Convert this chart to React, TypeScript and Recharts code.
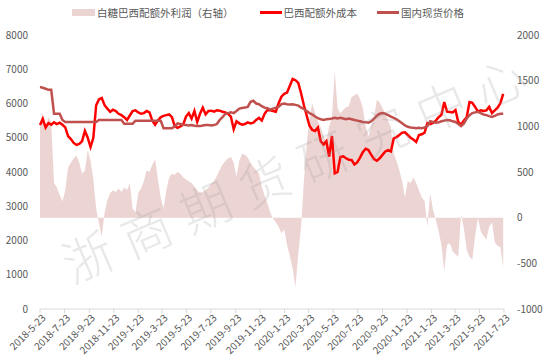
import React from 'react';
import { ComposedChart, Area, Line, XAxis, YAxis, Legend } from 'recharts';

// x-axis tick labels (every two months)
const tickLabels = [
  '2018-5-23', '2018-7-23', '2018-9-23', '2018-11-23', '2019-1-23', '2019-3-23', '2019-5-23',
  '2019-7-23', '2019-9-23', '2019-11-23', '2020-1-23', '2020-3-23', '2020-5-23', '2020-7-23',
  '2020-9-23', '2020-11-23', '2021-1-23', '2021-3-23', '2021-5-23', '2021-7-23',
];

// weekly readings, starting 2018-5-23
// 白糖巴西配额外利润（右轴）
const profit = [
  1050, 1150, 950, 1100, 1050, 380, 330, 250, 180, 300,
  550, 600, 650, 680, 600, 480, 520, 740, 620, 420,
  100, -60, -210, 50, 190, 270, 300, 280, 320, 280,
  330, 300, 380, 100, 60, 270, 320, 400, 520, 500,
  580, 640, 420, 220, 100, 300, 440, 480, 470, 500,
  480, 440, 420, 400, 380, 340, 300, 270, 280, 300,
  330, 370, 400, 460, 520, 580, 620, 650, 665, 600,
  450, 620, 700, 690, 660, 600, 555, 520, 480, 340,
  240, 160, 60, -10, -50, -100, -170, -130, -300, -420,
  -560, -760, -400, -100, 400, 800, 1100, 1250, 1150, 1050,
  990, 900, 820, 1000, 1100, 1600, 1200, 1140, 1180, 1210,
  1220, 1320, 1340, 1360, 1300, 1200, 1000, 885, 1000, 1100,
  1290, 1260, 1200, 1140, 1060, 990, 700, 620, 520, 400,
  220, 400, 380, 440, 380, 300, 220, 180, -100, 270,
  85, -20, -150, -300, -580, -300, -280, -370, -400, -430,
  40, -120, -350, -430, -460, -200, 0, -150, -200, -240,
  -100, -50, -270, -310, -320, -540,
];

// 巴西配额外成本
const cost = [
  5370, 5550, 5300, 5430, 5380, 5450, 5400, 5440, 5380, 5300,
  5050, 4960, 4850, 4790, 4820, 4900, 5200, 5000, 4730, 5000,
  5950, 6120, 6160, 5950, 5850, 5760, 5820, 5780, 5700, 5660,
  5600, 5520, 5650, 5780, 5800, 5740, 5700, 5720, 5780, 5740,
  5500, 5380, 5500, 5600, 5640, 5660, 5680, 5600, 5340, 5290,
  5330, 5380, 5620, 5720, 5560, 5780, 5460, 5700, 5880, 5680,
  5780, 5790, 5760, 5800, 5790, 5760, 5740, 5700, 5620, 5250,
  5480, 5420, 5380, 5400, 5450, 5420, 5440, 5520, 5580, 5500,
  5700, 5810, 5800, 5780, 5760, 6010, 6200, 6280, 6320, 6520,
  6720, 6680, 6600, 6300, 5950, 5650, 5350, 5230, 5200, 5300,
  4900, 4800, 4900, 4450, 5050, 3960, 4000, 4440, 4460, 4400,
  4360, 4350, 4220, 4280, 4420, 4580, 4680, 4640, 4500, 4380,
  4330, 4400, 4500, 4600, 4640, 4600, 4980, 5020, 5080, 5150,
  5160, 5080, 5000, 4950, 4880, 5080, 5100, 5150, 5430, 5400,
  5430, 5500, 5600, 5670, 6040, 5760, 5750, 5740, 5810, 5460,
  5380, 5500, 5600, 6040, 6020, 5900, 5760, 5800, 5780, 5800,
  5900, 5720, 5800, 5880, 6010, 6280,
];

// 国内现货价格
const spot = [
  6480, 6460, 6430, 6400, 6400, 5700, 5700, 5700, 5520, 5460,
  5460, 5460, 5460, 5460, 5460, 5460, 5460, 5460, 5460, 5460,
  5460, 5520, 5520, 5520, 5520, 5520, 5520, 5520, 5520, 5520,
  5410, 5410, 5410, 5410, 5500, 5500, 5500, 5500, 5500, 5500,
  5500, 5500, 5500, 5500, 5280, 5280, 5280, 5280, 5330, 5420,
  5400, 5380, 5370, 5360, 5370, 5350, 5340, 5340, 5360, 5370,
  5370, 5360, 5370, 5400, 5520, 5600, 5700, 5720, 5740, 5720,
  5780, 5850, 5870, 5880, 5900, 6050, 6080, 6000, 5980, 5920,
  5880, 5860, 5820, 5850, 5880, 5900, 5980, 6000, 5980, 5970,
  5980, 5960, 5940, 5880, 5840, 5780, 5720, 5680, 5620, 5570,
  5540, 5520, 5540, 5550, 5560, 5580, 5560, 5580, 5560, 5540,
  5560, 5540, 5520, 5500, 5480, 5460, 5450, 5440, 5480, 5560,
  5640, 5700, 5720, 5700, 5660, 5620, 5580, 5540, 5480, 5420,
  5360, 5320, 5300, 5290, 5280, 5290, 5280, 5300, 5340, 5480,
  5460, 5440, 5450, 5480, 5500, 5520, 5510, 5480, 5460, 5400,
  5340, 5420, 5560, 5660, 5720, 5740, 5760, 5720, 5680, 5660,
  5630, 5610, 5640, 5680, 5700, 5700,
];

const leftTicks = [0, 1000, 2000, 3000, 4000, 5000, 6000, 7000, 8000];
const rightTicks = [-1000, -500, 0, 500, 1000, 1500, 2000];

const AREA_COLOR = '#ecd4d3';
const COST_COLOR = '#ff0000';
const SPOT_COLOR = '#c0504d';
const TEXT_COLOR = '#595959';
const FONT = "'Noto Sans CJK SC', 'Noto Sans', sans-serif";

const dayOf = (s: string) => {
  const [y, m, d] = s.split('-').map(Number);
  return Math.round((Date.UTC(y, m - 1, d) - Date.UTC(2018, 4, 23)) / 86400000);
};
const tickDays = tickLabels.map(dayOf);
const labelByDay = new Map(tickDays.map((d, i) => [d, tickLabels[i]]));

const data = spot.map((_, i) => ({
  day: i * 7,
  profit: profit[i],
  cost: cost[i],
  spot: spot[i],
}));

const XTick = ({ x, y, payload }: any) => (
  <g transform={`translate(${x + 4},${y})`}>
    <text
      transform="rotate(-45)"
      textAnchor="end"
      dy="0.35em"
      fontSize={10}
      fill={TEXT_COLOR}
      fontFamily={FONT}
    >
      {labelByDay.get(payload.value)}
    </text>
  </g>
);

const LegendContent = () => (
  <div style={{ display: 'flex', alignItems: 'center', fontSize: 10.5, color: TEXT_COLOR, fontFamily: FONT, whiteSpace: 'nowrap' }}>
    <span style={{ display: 'inline-block', width: 23, height: 7, background: AREA_COLOR, marginRight: 2 }} />
    <span style={{ marginRight: 26 }}>白糖巴西配额外利润（右轴）</span>
    <span style={{ display: 'inline-block', width: 22, height: 3, background: COST_COLOR, marginRight: 2 }} />
    <span style={{ marginRight: 20 }}>巴西配额外成本</span>
    <span style={{ display: 'inline-block', width: 22, height: 3, background: SPOT_COLOR, marginRight: 2 }} />
    <span>国内现货价格</span>
  </div>
);

export default function App() {
  return (
    <div style={{ position: 'absolute', left: 0, top: 0, width: 550, height: 364, background: '#fff', overflow: 'hidden' }}>
      <ComposedChart width={550} height={364} data={data} margin={{ top: 35, right: 0, bottom: 0, left: 0 }}>
        <XAxis
          dataKey="day"
          type="number"
          domain={[0, 1157]}
          ticks={tickDays}
          interval={0}
          height={55}
          stroke="#d9d9d9"
          tickSize={4}
          tickMargin={3}
          tick={<XTick />}
        />
        <YAxis
          yAxisId="left"
          orientation="left"
          width={40}
          domain={[0, 8000]}
          ticks={leftTicks}
          axisLine={false}
          tickLine={false}
          tickMargin={6}
          tick={{ fontSize: 10, fill: TEXT_COLOR, fontFamily: FONT }}
        />
        <YAxis
          yAxisId="right"
          orientation="right"
          width={46}
          domain={[-1000, 2000]}
          ticks={rightTicks}
          axisLine={false}
          tickLine={false}
          tickMargin={7}
          tick={{ fontSize: 10, fill: TEXT_COLOR, fontFamily: FONT, textAnchor: 'start' }}
        />
        <Legend
          layout="horizontal"
          verticalAlign="middle"
          align="center"
          content={<LegendContent />}
          wrapperStyle={{ top: 5, left: 72, width: 420 }}
        />
        <Area
          yAxisId="right"
          dataKey="profit"
          type="linear"
          fill={AREA_COLOR}
          fillOpacity={1}
          stroke="none"
          baseValue={0}
          dot={false}
          activeDot={false}
          isAnimationActive={false}
        />
        <Line
          yAxisId="left"
          dataKey="cost"
          type="linear"
          stroke={COST_COLOR}
          strokeWidth={2.5}
          dot={false}
          activeDot={false}
          isAnimationActive={false}
        />
        <Line
          yAxisId="left"
          dataKey="spot"
          type="linear"
          stroke={SPOT_COLOR}
          strokeWidth={2.5}
          dot={false}
          activeDot={false}
          isAnimationActive={false}
        />
      </ComposedChart>
      {/* watermark */}
      <div
        style={{
          position: 'absolute',
          left: 290 - 260,
          top: 168 - 32,
          width: 520,
          height: 64,
          lineHeight: '64px',
          textAlign: 'center',
          transform: 'rotate(-23deg)',
          transformOrigin: 'center',
          fontSize: 50,
          letterSpacing: 14,
          paddingLeft: 14,
          boxSizing: 'border-box',
          color: 'rgba(150,150,150,0.22)',
          fontFamily: FONT,
          fontWeight: 300,
          pointerEvents: 'none',
          whiteSpace: 'nowrap',
        }}
      >
        浙商期货研究中心
      </div>
    </div>
  );
}
